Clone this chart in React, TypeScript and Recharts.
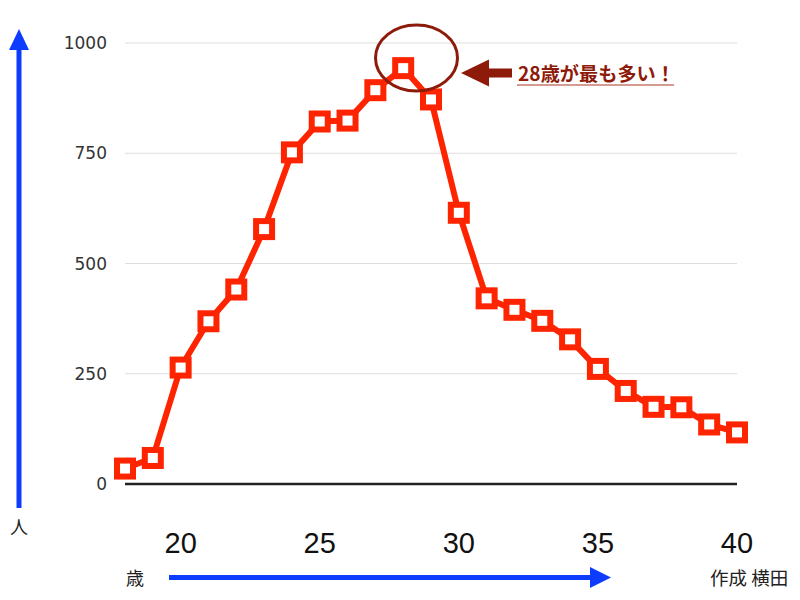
import React from 'react';
import { LineChart, Line, XAxis, YAxis, CartesianGrid } from 'recharts';

// 年齢 (歳)
const ages = [18, 19, 20, 21, 22, 23, 24, 25, 26, 27, 28, 29, 30, 31, 32, 33, 34, 35, 36, 37, 38, 39, 40];
// 人数
const counts = [35, 59, 264, 369, 441, 578, 752, 822, 824, 893, 943, 872, 615, 421, 395, 370, 328, 261, 211, 175, 174, 135, 117];

const xTicks = [20, 25, 30, 35, 40];
const yTicks = [0, 250, 500, 750, 1000];

const RED = '#ff2400';
const BLUE = '#0d3cff';
const DARK_RED = '#8e1a0a';
const CJK = '"Noto Sans CJK JP", "Noto Sans", sans-serif';

const data = ages.map((age, i) => ({ age, count: counts[i] }));

function SquareDot(props: any) {
  const { cx, cy } = props;
  if (cx == null || cy == null) return null;
  const s = 16;
  return (
    <rect
      x={cx - s / 2}
      y={cy - s / 2}
      width={s}
      height={s}
      fill="#fff"
      stroke={RED}
      strokeWidth={6}
    />
  );
}

export default function App() {
  return (
    <div style={{ position: 'absolute', left: 0, top: 0, width: 800, height: 600, background: '#fff' }}>
      <LineChart
        width={800}
        height={600}
        data={data}
        margin={{ top: 43, right: 63, bottom: 36, left: 65 }}
      >
        <CartesianGrid horizontal vertical={false} stroke="#dedede" strokeWidth={1} />
        <XAxis
          dataKey="age"
          type="number"
          domain={[18, 40]}
          ticks={xTicks}
          height={80}
          tickLine={false}
          tickMargin={42}
          axisLine={{ stroke: '#222', strokeWidth: 2.5 }}
          tick={{ fontSize: 29, fill: '#111', fontFamily: '"Liberation Sans", Arial, sans-serif' }}
        />
        <YAxis
          type="number"
          domain={[0, 1000]}
          ticks={yTicks}
          width={60}
          tickLine={false}
          axisLine={false}
          tickMargin={12}
          tick={{ fontSize: 17, fill: '#333', fontFamily: '"DejaVu Sans", sans-serif' }}
        />
        <Line
          dataKey="count"
          stroke={RED}
          strokeWidth={6}
          strokeLinejoin="round"
          dot={<SquareDot />}
          activeDot={false}
          isAnimationActive={false}
        />
      </LineChart>

      <svg
        width={800}
        height={600}
        style={{ position: 'absolute', left: 0, top: 0, pointerEvents: 'none' }}
      >
        {/* 縦軸の矢印 */}
        <line x1={19} y1={508} x2={19} y2={48} stroke={BLUE} strokeWidth={5} />
        <polygon points="19,29 9,50 29,50" fill={BLUE} />
        <text x={19} y={534} textAnchor="middle" fontSize={18} fontFamily={CJK} fill="#222">
          人
        </text>

        {/* 横軸の矢印 */}
        <line x1={169} y1={577.5} x2={593} y2={577.5} stroke={BLUE} strokeWidth={5} />
        <polygon points="611,577.5 590,567 590,588" fill={BLUE} />
        <text x={135} y={585} textAnchor="middle" fontSize={18} fontFamily={CJK} fill="#222">
          歳
        </text>
        <text x={710} y={585} fontSize={18.5} fontFamily={CJK} fill="#222">
          作成 横田
        </text>

        {/* 注記 */}
        <ellipse cx={416.5} cy={58} rx={41} ry={33} fill="none" stroke={DARK_RED} strokeWidth={3} />
        <rect x={486} y={68.5} width={26} height={9} fill={DARK_RED} />
        <polygon points="461,73 489,59.5 489,86.5" fill={DARK_RED} />
        <text x={518} y={81} fontSize={19.2} fontWeight="bold" fontFamily={CJK} fill={DARK_RED}>
          28歳が最も多い！
        </text>
        <line x1={517} y1={85} x2={674} y2={85} stroke="#c47a6e" strokeWidth={1.5} />
      </svg>
    </div>
  );
}
